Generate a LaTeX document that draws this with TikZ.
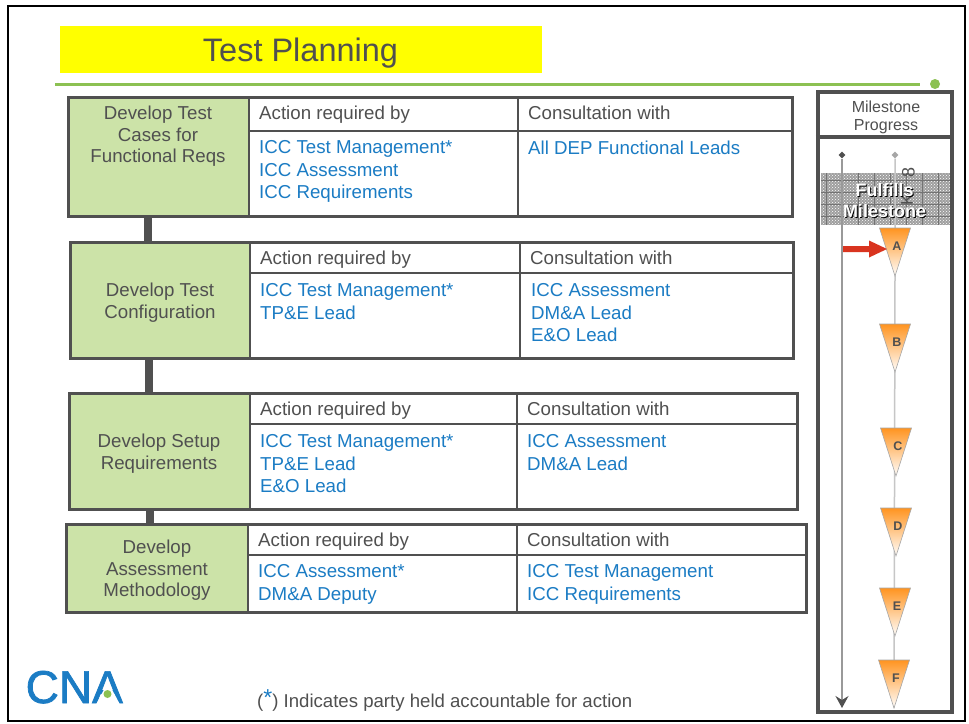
\documentclass[tikz,border=0pt]{standalone}
\usepackage{fontspec}
\setmainfont{Liberation Sans}
\newfontfamily\logofont[FakeBold=1.6]{Liberation Sans}
\usetikzlibrary{arrows.meta,patterns,shapes.geometric}
\definecolor{inkgray}{HTML}{505050}
\definecolor{linkblue}{HTML}{1B7CC4}
\definecolor{taskgreen}{HTML}{CCE3A8}
\definecolor{rulegreen}{HTML}{8CC152}
\definecolor{gateorange}{HTML}{FF9420}
\definecolor{titleyellow}{HTML}{FFFF00}
\definecolor{pointerred}{HTML}{D9341F}
\begin{document}
\begin{tikzpicture}
                [
                    x=1pt,y=-1pt,
                    rowbox/.style={rectangle,draw=inkgray,line width=3pt,anchor=north west,inner sep=0,outer sep=0,minimum height=#1},
                    taskbox/.style={rectangle,fill=taskgreen,anchor=north west,inner sep=0,outer sep=0,minimum height=#1},
                    tasktext/.style={text=inkgray,align=center,inner sep=0,font=\fontsize{18.7}{21.5}\selectfont},
                    link/.style={draw=inkgray,line width=8pt},
                    divider/.style={draw=inkgray,line width=1.5pt},
                    head/.style={anchor=base west,inner sep=0,text=inkgray,font=\fontsize{18.7}{22}\selectfont},
                    who/.style={anchor=north west,inner sep=0,text=linkblue,align=left,font=\fontsize{18.7}{22.6}\selectfont},
                    gate/.style={draw=gray!70,line width=0.6pt,top color=gateorange,bottom color=white},
                    gateletter/.style={inner sep=0,text=inkgray,font=\fontsize{12.5}{12.5}\bfseries\selectfont},
                    track/.style={draw=gray!45,line width=1.5pt},
                    fulfill/.style={inner sep=0,align=center,font=\fontsize{18}{21}\bfseries\selectfont},
                ]
                \useasboundingbox (0,0) rectangle (969,723);
                \fill[white] (0,0) rectangle (969,723);
                \draw[black,line width=2.5pt] (8,6) rectangle (965,721);

                % title
                \node[fill=titleyellow,minimum width=482pt,minimum height=47pt,inner sep=0,anchor=north west] (titlebar) at (60,26) {};
                \node[anchor=base,text=inkgray,inner sep=0,font=\fontsize{32.500}{32.500}\selectfont] (title) at (300.500,61) {Test Planning};
                \coordinate (rulestart) at (55,84);
                \node[circle,fill=rulegreen,inner sep=0,minimum size=10pt] (ruledot) at (935,84) {};
                \draw[rulegreen,line width=3pt] (rulestart) -- (920,84);

                % rows
                \node[taskbox=119pt,minimum width=181pt] (task1) at (68,97) {};
                \node[taskbox=116pt,minimum width=180pt] (task2) at (70,242) {};
                \node[taskbox=116pt,minimum width=181pt] (task3) at (69,393) {};
                \node[taskbox=88pt,minimum width=182pt] (task4) at (66,524) {};
                \node[rowbox=119pt,minimum width=724pt] (row1) at (68,97) {};
                \node[rowbox=116pt,minimum width=723pt] (row2) at (70,242) {};
                \node[rowbox=116pt,minimum width=728pt] (row3) at (69,393) {};
                \node[rowbox=88pt,minimum width=740pt] (row4) at (66,524) {};

                \draw[link] ([xshift=-10.5pt]task1.south) -- ([xshift=-10.5pt]task1.south |- task2.north);
                \draw[link] ([xshift=-11pt]task2.south) -- ([xshift=-11pt]task2.south |- task3.north);
                \draw[link] ([xshift=-9.5pt]task3.south) -- ([xshift=-9.5pt]task3.south |- task4.north);

                \node[tasktext] (label1) at (158,136.500) {Develop Test\\Cases for\\Functional Reqs};
                \node[tasktext] (label2) at (160,302.500) {Develop Test\\Configuration};
                \node[tasktext] (label3) at (159,453.500) {Develop Setup\\Requirements};
                \node[tasktext] (label4) at (157,570.500) {Develop\\Assessment\\Methodology};

                % table lines
                \draw[divider] (249,131) -- (792,131) (249,97) -- (249,216) (518,97) -- (518,216);
                \draw[divider] (250,273) -- (793,273) (250,242) -- (250,358) (520,242) -- (520,358);
                \draw[divider] (250,424) -- (797,424) (250,393) -- (250,509) (517,393) -- (517,509);
                \draw[divider] (248,555) -- (806,555) (248,524) -- (248,612) (517,524) -- (517,612);

                \node[head] (action1) at (259,119) {Action required by};
                \node[head] (consult1) at (528,119) {Consultation with};
                \node[who] (actors1) at (259,140.500) {ICC Test Management*\\ICC Assessment\\ICC Requirements};
                \node[who] (peers1) at (528,140.500) {All DEP Functional Leads};

                \node[head] (action2) at (260,264) {Action required by};
                \node[head] (consult2) at (530,264) {Consultation with};
                \node[who] (actors2) at (260,283.500) {ICC Test Management*\\TP\&E Lead};
                \node[who] (peers2) at (531,283.500) {ICC Assessment\\DM\&A Lead\\E\&O Lead};

                \node[head] (action3) at (260,415) {Action required by};
                \node[head] (consult3) at (527,415) {Consultation with};
                \node[who] (actors3) at (260,434.500) {ICC Test Management*\\TP\&E Lead\\E\&O Lead};
                \node[who] (peers3) at (527,434.500) {ICC Assessment\\DM\&A Lead};

                \node[head] (action4) at (258,546) {Action required by};
                \node[head] (consult4) at (527,546) {Consultation with};
                \node[who] (actors4) at (258,564.500) {ICC Assessment*\\DM\&A Deputy};
                \node[who] (peers4) at (527,564.500) {ICC Test Management\\ICC Requirements};

                % logo and footnote
                \node[anchor=base west,inner sep=0,text=linkblue,font=\logofont\fontsize{46}{46}\selectfont] (logo) at (25.500,703) {CNA};
                \fill[white] (108,682) -- (96,704.500) -- (120,704.500) -- cycle;
                \node[circle,fill=rulegreen,inner sep=0,minimum size=8pt] (logodot) at (107.500,694) {};
                \node[anchor=west,inner sep=0,text=inkgray,font=\fontsize{18.600}{22}\selectfont] (note) at (257,701) {(\raisebox{2pt}{\textcolor{linkblue}{\fontsize{23}{23}\selectfont *}}) Indicates party held accountable for action};

                % milestone panel
                \fill[gray!75] (821,173) rectangle (950,225);
                \fill[pattern=crosshatch dots,pattern color=white] (821,173) rectangle (950,225);
                \foreach \gx in {826,842,...,946}
                    \draw[gray!90!black,line width=0.4pt] (\gx,173) -- (\gx,225);
                \foreach \gy in {180,192,...,224}
                    \draw[gray!90!black,line width=0.4pt] (821,\gy) -- (950,\gy);

                \node[diamond,aspect=1,fill=inkgray,inner sep=0,minimum size=7pt] (start1) at (842,155) {};
                \node[diamond,aspect=1,fill=gray!70,inner sep=0,minimum size=7pt] (start2) at (895,155) {};
                \coordinate (end1) at (842,708);
                \draw[gray!80,line width=1.2pt,-{Stealth[length=12pt,width=13pt,inset=4pt,fill=inkgray,color=inkgray]}] (start1) -- (end1);

                \foreach \gname/\gx/\gy in {A/895/228,B/895/324,C/896/428,D/896/508,E/895/588,F/894/660}{
                    \coordinate (tip\gname) at (\gx,\gy+48);
                }
                \draw[track] (start2) -- (tipA) -- (tipF);
                \foreach \gname/\gx/\gy in {A/895/228,B/895/324,C/896/428,D/896/508,E/895/588,F/894/660}{
                    \shade[gate] (\gx-15.500,\gy) -- (\gx+15.500,\gy) -- (\gx,\gy+48) -- cycle;
                    \node[gateletter] (letter\gname) at (\gx+2,\gy+18.500) {\gname};
                }

                \node[rotate=90,inner sep=0,text=inkgray,font=\fontsize{18}{18}\selectfont] (stray1) at (908.500,172) {8};
                \node[rotate=90,inner sep=0,text=inkgray,font=\fontsize{17}{17}\selectfont] (stray2) at (907,200) {K};

                \node[fulfill,text=black] (shadow) at (885.500,202) {Fulfills\\Milestone};
                \node[fulfill,text=white] (fulfills) at (884.500,201) {Fulfills\\Milestone};

                \coordinate (arrowstart) at (843,249);
                \fill[pointerred] (arrowstart) ++(0,-3) -- ++(26,0) -- ++(0,-5.500) -- ++(18,8.500) -- ++(-18,8.500) -- ++(0,-5.500) -- ++(-26,0) -- cycle;

                \node[rectangle,draw=inkgray,line width=4.500pt,anchor=north west,inner sep=0,minimum width=134pt,minimum height=620pt] (panel) at (815.750,89.750) {};
                \draw[inkgray,line width=4pt] (panel.west |- 0,137) -- (panel.east |- 0,137);
                \node[align=center,inner sep=0,text=inkgray,font=\fontsize{16}{18}\selectfont] (panelhead) at (886,117) {Milestone\\Progress};
            \end{tikzpicture}
\end{document}
